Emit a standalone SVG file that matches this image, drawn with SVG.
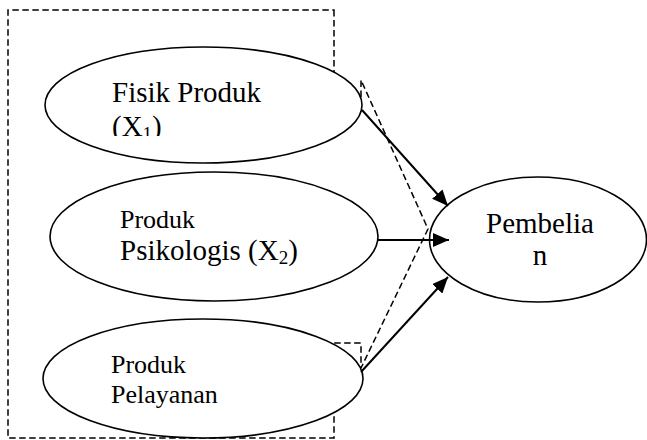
<svg xmlns="http://www.w3.org/2000/svg" width="647" height="440" viewBox="0 0 647 440">
<style>
.bg{fill:#fff}
.frame{fill:none;stroke:#000;stroke-width:1.5;stroke-dasharray:6.5,3.5}
.node{fill:#fff;stroke:#000;stroke-width:1.6}
.edge{fill:none;stroke:#000;stroke-width:2;marker-end:url(#ah)}
</style>
<defs>
<marker id="ah" markerUnits="userSpaceOnUse" markerWidth="17" markerHeight="14" refX="16" refY="7" orient="auto">
<path d="M0,0 L16,7 L0,14 Z" fill="#000"/>
</marker>
<clipPath id="c1"><rect x="100" y="60" width="200" height="76"/></clipPath>
</defs>
<rect class="bg" width="647" height="440"/>
<g id="frame">
<path class="frame" d="M334,10 L334,100 L361,100 L361,80 L428,229 L361,368 L361,343 L334,343 L334,438 L8,438 L8,10 Z"/>
</g>
<g font-family="Liberation Serif" fill="#000">
<g id="n1">
<ellipse class="node" cx="203.5" cy="105" rx="158.5" ry="58"/>
<g clip-path="url(#c1)">
<text font-size="29" x="112" y="102">Fisik Produk</text>
<text font-size="29" x="112" y="136">(X<tspan font-size="19" dy="4">1</tspan><tspan dy="-4">)</tspan></text>
</g>
</g>
<g id="n2">
<ellipse class="node" cx="214" cy="236.5" rx="164" ry="64.5"/>
<text font-size="26" x="120" y="227.5">Produk</text>
<text font-size="29" x="120" y="260">Psikologis (X<tspan font-size="19" dy="4">2</tspan><tspan dy="-4">)</tspan></text>
</g>
<g id="n3">
<ellipse class="node" cx="203" cy="378.5" rx="160" ry="59.5"/>
<text font-size="26" x="111" y="372.5">Produk</text>
<text font-size="26" x="111" y="402.5">Pelayanan</text>
</g>
<g id="n4">
<ellipse class="node" cx="538" cy="239.5" rx="108.5" ry="62.5"/>
<text font-size="29" x="486" y="233">Pembelia</text>
<text font-size="29" x="540" y="265" text-anchor="middle">n</text>
</g>
</g>
<g id="edges">
<line class="edge" x1="362" y1="110" x2="448" y2="206"/>
<line class="edge" x1="378" y1="240" x2="449" y2="240"/>
<line class="edge" x1="361" y1="372" x2="448" y2="277"/>
</g>
</svg>
